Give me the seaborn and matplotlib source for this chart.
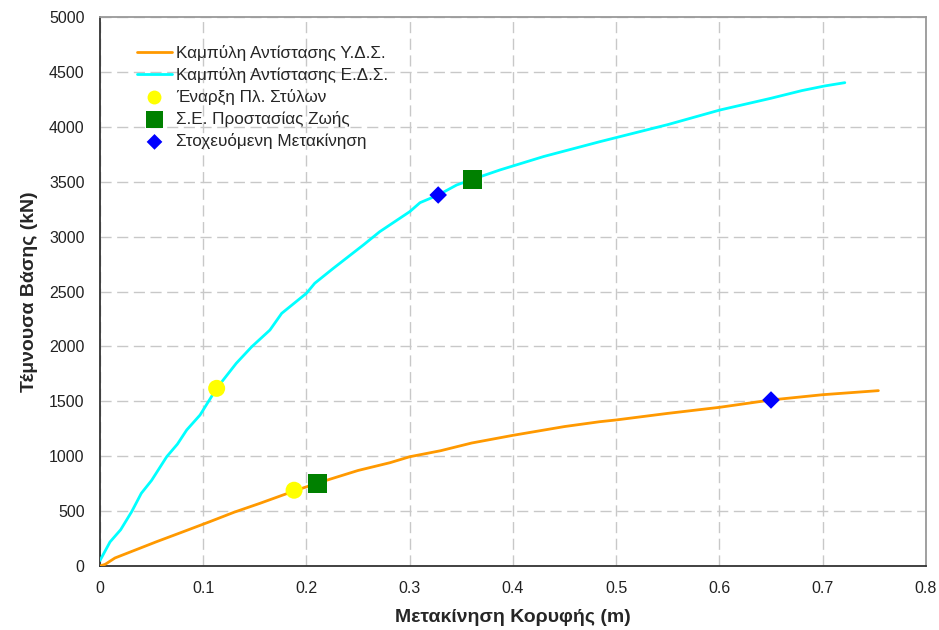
import numpy as np
import pandas as pd
import matplotlib
matplotlib.use("Agg")
import matplotlib.pyplot as plt
import seaborn as sns

# Pushover curve, existing building (Υ.Δ.Σ.)
yds_disp = [0, 0.005, 0.0145, 0.03, 0.055, 0.08, 0.1065, 0.13, 0.155, 0.188, 0.211,
            0.25, 0.281, 0.3, 0.33, 0.36, 0.4, 0.45, 0.484, 0.5, 0.55, 0.6, 0.65, 0.7, 0.754]
yds_shear = [0, 15, 73, 130, 222, 310, 404, 490, 571, 683, 756,
             870, 941, 995, 1050, 1120, 1190, 1270, 1314, 1330, 1390, 1445, 1512, 1560, 1597]

# Pushover curve, strengthened building (Ε.Δ.Σ.)
eds_disp = [0, 0.0097, 0.02, 0.0307, 0.040, 0.05, 0.0646, 0.075, 0.084, 0.0969, 0.113,
            0.132, 0.147, 0.1646, 0.176, 0.2, 0.208, 0.226, 0.255, 0.271, 0.3, 0.31,
            0.3276, 0.3455, 0.361, 0.3874, 0.43, 0.484, 0.55, 0.6005, 0.65, 0.68, 0.702, 0.7215]
eds_shear = [50, 219, 330, 495, 662, 780, 995, 1110, 1239, 1375, 1618,
             1846, 1997, 2149, 2301, 2484, 2575, 2711, 2923, 3045, 3227, 3309,
             3379, 3470, 3522, 3607, 3730, 3864, 4020, 4153, 4260, 4330, 4372, 4402]

# Performance points
yield_disp = [0.113, 0.188]
yield_shear = [1618, 690]
ls_disp = [0.361, 0.211]
ls_shear = [3522, 752]
target_disp = [0.3276, 0.65]
target_shear = [3379, 1512]

sns.set_style("white")
plt.rcParams['font.family'] = ['Liberation Sans', 'DejaVu Sans']

fig = plt.figure(figsize=(9.39, 6.3), dpi=100)
ax = fig.add_axes([0.1065, 0.1016, 0.8795, 0.8714])

df_yds = pd.DataFrame({'x': yds_disp, 'y': yds_shear})
df_eds = pd.DataFrame({'x': eds_disp, 'y': eds_shear})

sns.lineplot(data=df_yds, x='x', y='y', ax=ax, color='#FF9900', linewidth=2,
             sort=False, label='Καμπύλη Αντίστασης Υ.Δ.Σ.', zorder=3)
sns.lineplot(data=df_eds, x='x', y='y', ax=ax, color='#00FFFF', linewidth=2,
             sort=False, label='Καμπύλη Αντίστασης Ε.Δ.Σ.', zorder=3)
sns.scatterplot(x=yield_disp, y=yield_shear, ax=ax, color='#FFFF00', marker='o', s=150,
                edgecolor='none', label='Έναρξη Πλ. Στύλων', zorder=4)
sns.scatterplot(x=ls_disp, y=ls_shear, ax=ax, color='#008000', marker='s', s=190,
                edgecolor='none', label='Σ.Ε. Προστασίας Ζωής', zorder=4)
sns.scatterplot(x=target_disp, y=target_shear, ax=ax, color='#0000FF', marker='D', s=80,
                edgecolor='none', label='Στοχευόμενη Μετακίνηση', zorder=4)

ax.set_xlim(0, 0.8)
ax.set_ylim(0, 5000)
ax.set_xticks(np.arange(0, 0.81, 0.1))
ax.set_xticklabels(['0', '0.1', '0.2', '0.3', '0.4', '0.5', '0.6', '0.7', '0.8'])
ax.set_yticks(np.arange(0, 5001, 500))

ax.grid(True, color='#c8c8c8', linestyle=(0, (8, 4)), linewidth=1)
ax.tick_params(axis='both', direction='out', length=5, width=1, color='#333333',
               labelsize=11.5, colors='#222222', pad=6)
for side in ['left', 'bottom']:
    ax.spines[side].set_color('#333333')
    ax.spines[side].set_linewidth(1.3)
for side in ['top', 'right']:
    ax.spines[side].set_color('#999999')
    ax.spines[side].set_linewidth(1.3)

ax.set_xlabel('Μετακίνηση Κορυφής (m)', fontsize=14, fontweight='bold', labelpad=9)
ax.set_ylabel('Τέμνουσα Βάσης (kN)', fontsize=14, fontweight='bold', labelpad=8)

leg = ax.legend(loc='upper left', bbox_to_anchor=(0.036, 0.962), frameon=False,
                fontsize=12.3, handlelength=2.1, handletextpad=0.2, labelspacing=0.36,
                borderaxespad=0)
# smaller marker glyphs in the legend than on the plot
marker_sizes = [None, None, 10, 12, 8]
for h, ms in zip(leg.legend_handles, marker_sizes):
    if ms is None:
        continue
    if hasattr(h, 'set_markersize'):
        h.set_markersize(ms)
    else:
        h.set_sizes([ms ** 2])

fig.savefig('out.png', dpi=100)
